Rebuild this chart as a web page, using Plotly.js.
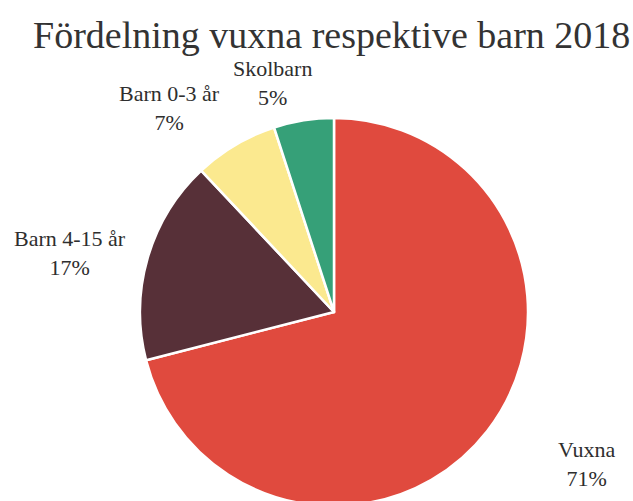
<!DOCTYPE html>
<html>
<head>
<meta charset="utf-8">
<script src="https://cdn.plot.ly/plotly-3.0.1.min.js"></script>
<style>
  html, body { margin: 0; padding: 0; overflow: hidden; background: #fff; }
  #chart { width: 633px; height: 520px; }
</style>
</head>
<body>
<div id="chart"></div>
<script>
// data
const categories = ['Vuxna', 'Barn 4-15 år', 'Barn 0-3 år', 'Skolbarn'];
const shares = [71, 17, 7, 5];
const colors = ['#e04a3e', '#573038', '#fbe98f', '#36a078'];

// label positions (paper coords) for the outside labels
const labelX = [0.927, 0.111, 0.268, 0.430];
const labelY = [0.108, 0.514, 0.792, 0.841];

const W = 633, H = 520;

const trace = {
    type: 'pie',
    labels: categories,
    values: shares,
    sort: false,
    direction: 'clockwise',
    rotation: 0,
    textinfo: 'none',
    hoverinfo: 'label+percent',
    marker: { colors: colors, line: { color: '#ffffff', width: 2.5 } },
    domain: { x: [140 / W, 528 / W], y: [(H - 506) / H, (H - 118) / H] }
};

const annotations = categories.map((c, i) => ({
    xref: 'paper', yref: 'paper',
    x: labelX[i], y: labelY[i],
    xanchor: 'center', yanchor: 'middle',
    text: c + '<br>' + shares[i] + '%',
    showarrow: false,
    align: 'center',
    font: { family: 'Liberation Serif, serif', size: 22, color: '#2e2e2e' }
}));

const layout = {
    width: W,
    height: H,
    margin: { l: 0, r: 0, t: 0, b: 0 },
    paper_bgcolor: '#ffffff',
    showlegend: false,
    title: {
        text: 'Fördelning vuxna respektive barn 2018',
        x: 0.524, xanchor: 'center',
        y: (H - 35) / H, yanchor: 'middle',
        font: { family: 'Liberation Serif, serif', size: 38, color: '#333333' }
    },
    annotations: annotations
};

Plotly.newPlot('chart', [trace], layout, { displayModeBar: false, staticPlot: true });
</script>
</body>
</html>
